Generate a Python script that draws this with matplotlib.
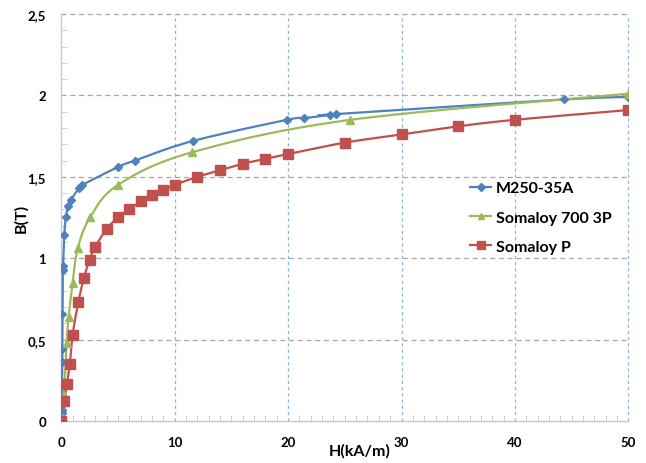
import numpy as np
import matplotlib
matplotlib.use("Agg")
import matplotlib.pyplot as plt
from matplotlib.ticker import MultipleLocator, FuncFormatter

# B-H curves, H in kA/m, B in T
h_m250 = [0, 0.03, 0.05, 0.06, 0.08, 0.09, 0.1, 0.14, 0.15, 0.26, 0.39, 0.62,
          0.86, 1.56, 1.85, 5.0, 6.5, 11.6, 19.9, 21.4, 23.7, 24.2, 44.3, 50]
b_m250 = [0, 0.05, 0.07, 0.1, 0.36, 0.44, 0.66, 0.93, 0.95, 1.14, 1.25, 1.32,
          1.36, 1.43, 1.45, 1.56, 1.60, 1.72, 1.85, 1.86, 1.88, 1.885, 1.975, 1.99]

h_700 = [0.15, 0.25, 0.47, 0.65, 1.0, 1.45, 2.53, 5.0, 11.5, 25.5, 50]
b_700 = [0.02, 0.16, 0.48, 0.64, 0.85, 1.06, 1.25, 1.45, 1.65, 1.85, 2.01]

h_p = [0, 0.25, 0.5, 0.75, 1, 1.5, 2, 2.5, 3, 4, 5, 6, 7, 8, 9, 10,
       12, 14, 16, 18, 20, 25, 30, 35, 40, 50]
b_p = [0, 0.12, 0.23, 0.35, 0.53, 0.73, 0.88, 0.99, 1.07, 1.18, 1.25, 1.30,
       1.35, 1.39, 1.42, 1.45, 1.50, 1.54, 1.58, 1.61, 1.64, 1.71, 1.76,
       1.81, 1.85, 1.91]

series = [
    ("M250-35A", h_m250, b_m250, "#4F81BD", "D", 4.5),
    ("Somaloy 700 3P", h_700, b_700, "#9BBB59", "^", 6),
    ("Somaloy P", h_p, b_p, "#C0504D", "s", 6.5),
]

XMAX, YMAX = 50, 2.5


def smooth(x, y, sx, sy, n=20):
    # bezier smoothing done in screen-like units so both axes weigh the same
    p = np.column_stack([np.asarray(x) * sx, np.asarray(y) * sy])
    out = [p[0]]
    t = np.linspace(0, 1, n)[1:, None]
    for i in range(len(p) - 1):
        p0 = p[i - 1] if i > 0 else p[i]
        p3 = p[i + 2] if i + 2 < len(p) else p[i + 1]
        c1 = p[i] + (p[i + 1] - p0) / 6
        c2 = p[i + 1] - (p3 - p[i]) / 6
        seg = ((1 - t) ** 3 * p[i] + 3 * (1 - t) ** 2 * t * c1
               + 3 * (1 - t) * t ** 2 * c2 + t ** 3 * p[i + 1])
        out.extend(seg)
    out = np.array(out)
    return out[:, 0] / sx, out[:, 1] / sy


plt.rcParams['font.family'] = ['Lato', 'DejaVu Sans']
fig = plt.figure(figsize=(6.46, 4.64), dpi=100)
ax = fig.add_axes([0.0949, 0.0905, 0.8777, 0.8772])

sx = 567 / XMAX
sy = 407 / YMAX
for name, h, b, col, mk, ms in series:
    xs, ys = smooth(h, b, sx, sy)
    ax.plot(xs, ys, color=col, lw=1.6, zorder=3)
    ax.plot(h, b, linestyle="none", marker=mk, ms=ms, color=col, zorder=4)
    ax.plot([], [], color=col, lw=1.6, marker=mk, ms=ms * 0.8, label=name)

ax.set_xlim(0, XMAX)
ax.set_ylim(0, YMAX)

ax.xaxis.set_major_locator(MultipleLocator(10))
ax.xaxis.set_minor_locator(MultipleLocator(1))
ax.yaxis.set_major_locator(MultipleLocator(0.5))
ax.yaxis.set_minor_locator(MultipleLocator(0.1))
ax.yaxis.set_major_formatter(FuncFormatter(lambda v, p: f"{v:g}".replace(".", ",")))

for yv in np.arange(0.5, YMAX + 0.01, 0.5):
    ax.axhline(yv, color="#a6a6a6", lw=0.9, dashes=(4, 3), zorder=1, clip_on=False)
for xv in np.arange(10, XMAX + 0.1, 10):
    ax.axvline(xv, color="#8db3e2", lw=0.9, dashes=(2.5, 2.5), zorder=1, clip_on=False)

for s in ("top", "right"):
    ax.spines[s].set_visible(False)
for s in ("left", "bottom"):
    ax.spines[s].set_color("#c8c8c8")
    ax.spines[s].set_linewidth(1.0)

ax.tick_params(which="both", direction="in", color="#c8c8c8")
ax.tick_params(which="major", length=0, labelsize=9.5, pad=11)
ax.tick_params(which="minor", length=4)
for lbl in ax.get_xticklabels() + ax.get_yticklabels():
    lbl.set_fontweight("bold")

ax.set_xlabel("H(kA/m)", fontsize=11.5, fontweight="bold")
ax.set_ylabel("B(T)", fontsize=11.5, fontweight="bold")
ax.xaxis.set_label_coords(0.526, -0.055)
ax.yaxis.set_label_coords(-0.058, 0.5)

leg = ax.legend(loc="upper left", bbox_to_anchor=(0.71, 0.605), frameon=False,
                prop={"weight": "bold", "size": 11.5}, handlelength=1.3,
                handletextpad=0.3, labelspacing=0.95, borderaxespad=0)

fig.savefig("out.png", dpi=100)
